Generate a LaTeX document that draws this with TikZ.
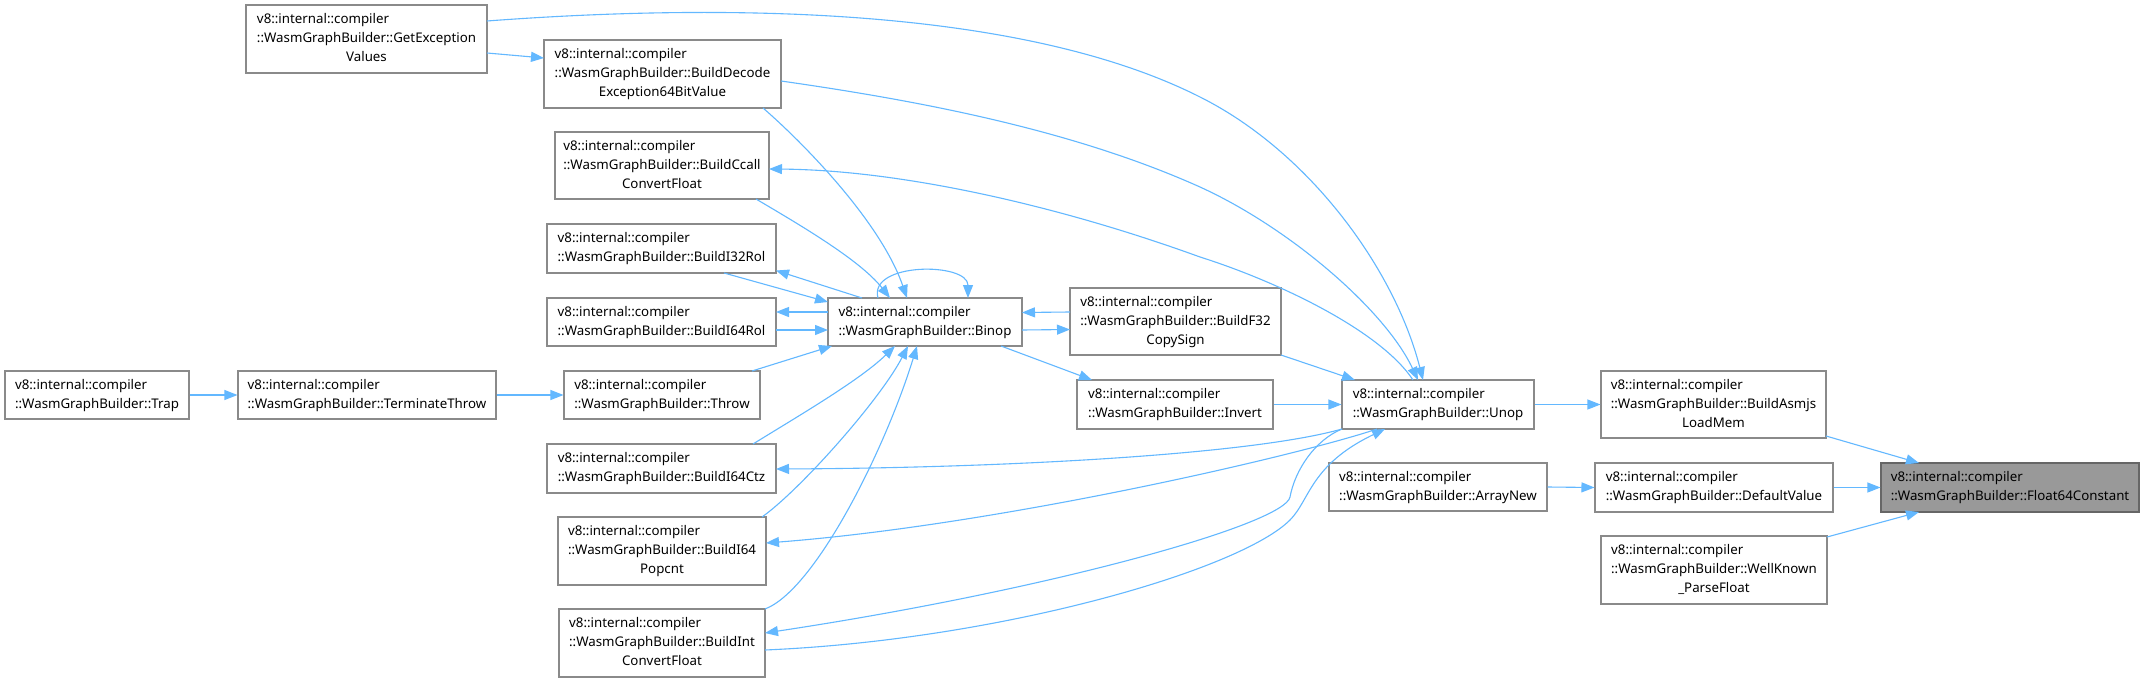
\documentclass[tikz,border=0pt]{standalone}
\usepackage{fontspec}
\setmainfont{Noto Sans}
\usetikzlibrary{arrows.meta,calc}
\definecolor{edgeblue}{HTML}{63B8FF}
\definecolor{boxline}{HTML}{8A8A8A}
\definecolor{hlfill}{HTML}{999999}
\definecolor{hlline}{HTML}{666666}
\newcommand{\twol}[2]{\begin{tabular}{@{}l@{}}#1\\#2\end{tabular}}
\newcommand{\threel}[3]{\begin{tabular}{@{}l@{}}#1\\#2\\\multicolumn{1}{@{}c@{}}{#3}\end{tabular}}
\tikzset{
  box/.style={draw=boxline, line width=1.1pt, fill=white, inner sep=0pt, font=\fontsize{13.3}{19}\selectfont, text=black},
  hl/.style={box, fill=hlfill, draw=hlline},
  edge/.style={draw=edgeblue, line width=1.1pt, -{Triangle[length=13pt,width=10pt]}},
}
\begin{document}
\begin{tikzpicture}[x=1pt,y=-1pt]
\useasboundingbox[fill=white] (0,0) rectangle (2144,682);
% nodes
\node[box,minimum width=241pt,minimum height=68pt] (getexc) at (366.5,39) {\threel{v8::internal::compiler}{::WasmGraphBuilder::GetException}{Values}};
\node[box,minimum width=237pt,minimum height=68pt] (decode) at (662.5,74) {\threel{v8::internal::compiler}{::WasmGraphBuilder::BuildDecode}{Exception64BitValue}};
\node[box,minimum width=214pt,minimum height=67pt] (ccall) at (662,165.5) {\threel{v8::internal::compiler}{::WasmGraphBuilder::BuildCcall}{ConvertFloat}};
\node[box,minimum width=229pt,minimum height=49pt] (i32rol) at (661.5,248.5) {\twol{v8::internal::compiler}{::WasmGraphBuilder::BuildI32Rol}};
\node[box,minimum width=229pt,minimum height=48pt] (i64rol) at (661.5,322) {\twol{v8::internal::compiler}{::WasmGraphBuilder::BuildI64Rol}};
\node[box,minimum width=184pt,minimum height=48pt] (trap) at (97,395) {\twol{v8::internal::compiler}{::WasmGraphBuilder::Trap}};
\node[box,minimum width=258pt,minimum height=48pt] (term) at (367,395) {\twol{v8::internal::compiler}{::WasmGraphBuilder::TerminateThrow}};
\node[box,minimum width=196pt,minimum height=48pt] (throw) at (662,395) {\twol{v8::internal::compiler}{::WasmGraphBuilder::Throw}};
\node[box,minimum width=229pt,minimum height=49pt] (i64ctz) at (661.5,468.5) {\twol{v8::internal::compiler}{::WasmGraphBuilder::BuildI64Ctz}};
\node[box,minimum width=208pt,minimum height=68pt] (popcnt) at (662,551) {\threel{v8::internal::compiler}{::WasmGraphBuilder::BuildI64}{Popcnt}};
\node[box,minimum width=206pt,minimum height=68pt] (intconv) at (662,643) {\threel{v8::internal::compiler}{::WasmGraphBuilder::BuildInt}{ConvertFloat}};
\node[box,minimum width=194pt,minimum height=48pt] (binop) at (925,322) {\twol{v8::internal::compiler}{::WasmGraphBuilder::Binop}};
\node[box,minimum width=211pt,minimum height=67pt] (copysign) at (1175.5,321.5) {\threel{v8::internal::compiler}{::WasmGraphBuilder::BuildF32}{CopySign}};
\node[box,minimum width=196pt,minimum height=49pt] (invert) at (1175,404.5) {\twol{v8::internal::compiler}{::WasmGraphBuilder::Invert}};
\node[box,minimum width=192pt,minimum height=49pt] (unop) at (1438,404.5) {\twol{v8::internal::compiler}{::WasmGraphBuilder::Unop}};
\node[box,minimum width=218pt,minimum height=48pt] (arraynew) at (1438,487) {\twol{v8::internal::compiler}{::WasmGraphBuilder::ArrayNew}};
\node[box,minimum width=225pt,minimum height=67pt] (asmjs) at (1713.5,404.5) {\threel{v8::internal::compiler}{::WasmGraphBuilder::BuildAsmjs}{LoadMem}};
\node[box,minimum width=238pt,minimum height=49pt] (defval) at (1714,487.5) {\twol{v8::internal::compiler}{::WasmGraphBuilder::DefaultValue}};
\node[box,minimum width=226pt,minimum height=68pt] (wellknown) at (1714,570) {\threel{v8::internal::compiler}{::WasmGraphBuilder::WellKnown}{\_ParseFloat}};
\node[hl,minimum width=258pt,minimum height=49pt] (f64c) at (2010,487.5) {\twol{v8::internal::compiler}{::WasmGraphBuilder::Float64Constant}};
% edges
\draw[edge] (trap.east) -- (term.west);
\draw[edge] (term.east) -- (throw.west);
\draw[edge] ($(getexc)+(120.5,14)$) -- ($(decode)+(-118.5,-16)$);
\draw[edge] ($(getexc)+(120.5,-18)$) .. controls (727,3) and (1022,7) .. (1200,97) .. controls (1310,152) and (1395,270) .. ($(unop)+(-15,-24.5)$);
\draw[edge] ($(decode)+(118.5,7)$) .. controls (921,101) and (1073,130) .. (1200,187) .. controls (1290,228) and (1385,310) .. ($(unop)+(-20,-24.5)$);
\draw[edge] ($(decode)+(100.5,34)$) .. controls (800,140) and (880,220) .. ($(binop)+(-18,-24)$);
\draw[edge] ($(unop)+(-25,-24.5)$) .. controls (1380,330) and (1276,281) .. (1200,257) .. controls (1057,205) and (900,170) .. ($(ccall)+(107,3.5)$);
\draw[edge] ($(ccall)+(94,33.5)$) .. controls (800,225) and (860,260) .. ($(binop)+(-35,-24)$);
\draw[edge] ($(binop)+(-47,-24)$) .. controls (868,262) and (968,262) .. ($(binop)+(43,-24)$);
\draw[edge] ($(binop)+(-63,-24)$) -- ($(i32rol)+(114.5,22)$);
\draw[edge] ($(i32rol)+(62.5,24.5)$) -- ($(binop)+(-97,-20)$);
\draw[edge] ($(binop)+(-97,-10)$) -- ($(i64rol)+(114.5,-10)$);
\draw[edge] ($(i64rol)+(114.5,8)$) -- ($(binop)+(-97,8)$);
\draw[edge] ($(throw)+(90,-24)$) -- ($(binop)+(-93,24)$);
\draw[edge] ($(i64ctz)+(91.5,-24.5)$) .. controls (800,415) and (860,380) .. ($(binop)+(-30,24)$);
\draw[edge] ($(popcnt)+(100,-34)$) .. controls (800,490) and (880,400) .. ($(binop)+(-17,24)$);
\draw[edge] ($(intconv)+(103,-34)$) .. controls (815,590) and (885,450) .. ($(binop)+(-8,24)$);
\draw[edge] ($(copysign)+(-105.5,-9.5)$) -- ($(binop)+(97,-9.5)$);
\draw[edge] ($(binop)+(97,8)$) -- ($(copysign)+(-105.5,8)$);
\draw[edge] ($(binop)+(76,24)$) -- ($(invert)+(-83,-24.5)$);
\draw[edge] ($(copysign)+(105.5,33.5)$) -- ($(unop)+(-83,-24.5)$);
\draw[edge] (invert.east) -- (unop.west);
\draw[edge] ($(unop)+(-96,24.5)$) .. controls (1250,455) and (1000,468) .. ($(i64ctz)+(114.5,0.5)$);
\draw[edge] ($(unop)+(-61,24.5)$) .. controls (1300,455) and (1000,525) .. ($(popcnt)+(104,-8)$);
\draw[edge] ($(unop)+(-96,24.5)$) .. controls (1315,440) and (1295,470) .. (1290,497) .. controls (1285,524) and (1050,590) .. ($(intconv)+(103,-10)$);
\draw[edge] ($(intconv)+(103,7)$) .. controls (1000,640) and (1240,570) .. (1290,520) .. controls (1310,500) and (1310,465) .. ($(unop)+(-53,24.5)$);
\draw[edge] (unop.east) -- (asmjs.west);
\draw[edge] (arraynew.east) -- (defval.west);
\draw[edge] ($(asmjs)+(112.5,31.5)$) -- ($(f64c)+(-91,-24.5)$);
\draw[edge] (defval.east) -- (f64c.west);
\draw[edge] ($(wellknown)+(113,-33)$) -- ($(f64c)+(-91,24.5)$);
\end{tikzpicture}
\end{document}
